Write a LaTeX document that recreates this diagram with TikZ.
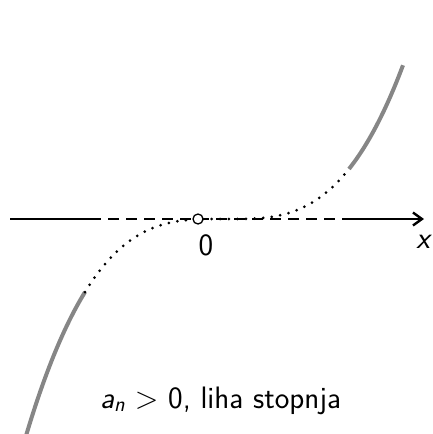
\documentclass[tikz,border=0pt]{standalone}
\usepackage{fontspec}
\usetikzlibrary{arrows.meta}
\tikzset{
  axisline/.style={line width=2.6pt},
  axisdash/.style={line width=2.6pt, dash pattern=on 11pt off 7pt},
  graycurve/.style={line width=4pt, color=gray!95},
  dotcurve/.style={line width=3pt, line cap=round, dash pattern=on 0pt off 8.6pt},
  lbl/.style={font=\fontsize{31}{35}\selectfont\sffamily, inner sep=0pt}
}
\begin{document}
\begin{tikzpicture}[x=1pt, y=-1pt]
\useasboundingbox (0,0) rectangle (433,434);
% axis
\coordinate (a0) at (10,219);
\coordinate (a1) at (90,219);
\coordinate (a2) at (346,219);
\coordinate (a3) at (424,219);
\draw[axisline] (a0) -- (a1);
\draw[axisdash] (a1) -- (a2);
\draw[axisline, -{Straight Barb[length=9pt,width=13pt,line width=2.4pt]}] (a2) -- (a3);
% curve
\draw[graycurve] plot[domain=26:85, samples=40] (\x, {219 + 29.7*((220-\x)/100)^3});
\draw[dotcurve] plot[domain=85:220, samples=80] (\x, {219 + 29.7*((220-\x)/100)^3})
  -- (230,219)
  -- plot[domain=230:349, samples=80] (\x, {219 - 29.7*((\x-230)/100)^3});
\draw[graycurve] plot[domain=349:403, samples=40] (\x, {219 - 29.7*((\x-230)/100)^3});
% origin
\node[circle, draw, fill=white, line width=1.3pt, minimum size=10pt, inner sep=0pt] (o) at (198,219) {};
\node[lbl] (zero) at (206,245) {0};
\node[lbl] (xl) at (423,242) {\itshape x};
\node[lbl, anchor=base west] (txt) at (100,408) {\itshape a\textsubscript{n}\upshape{} > 0, liha stopnja};
\end{tikzpicture}
\end{document}
